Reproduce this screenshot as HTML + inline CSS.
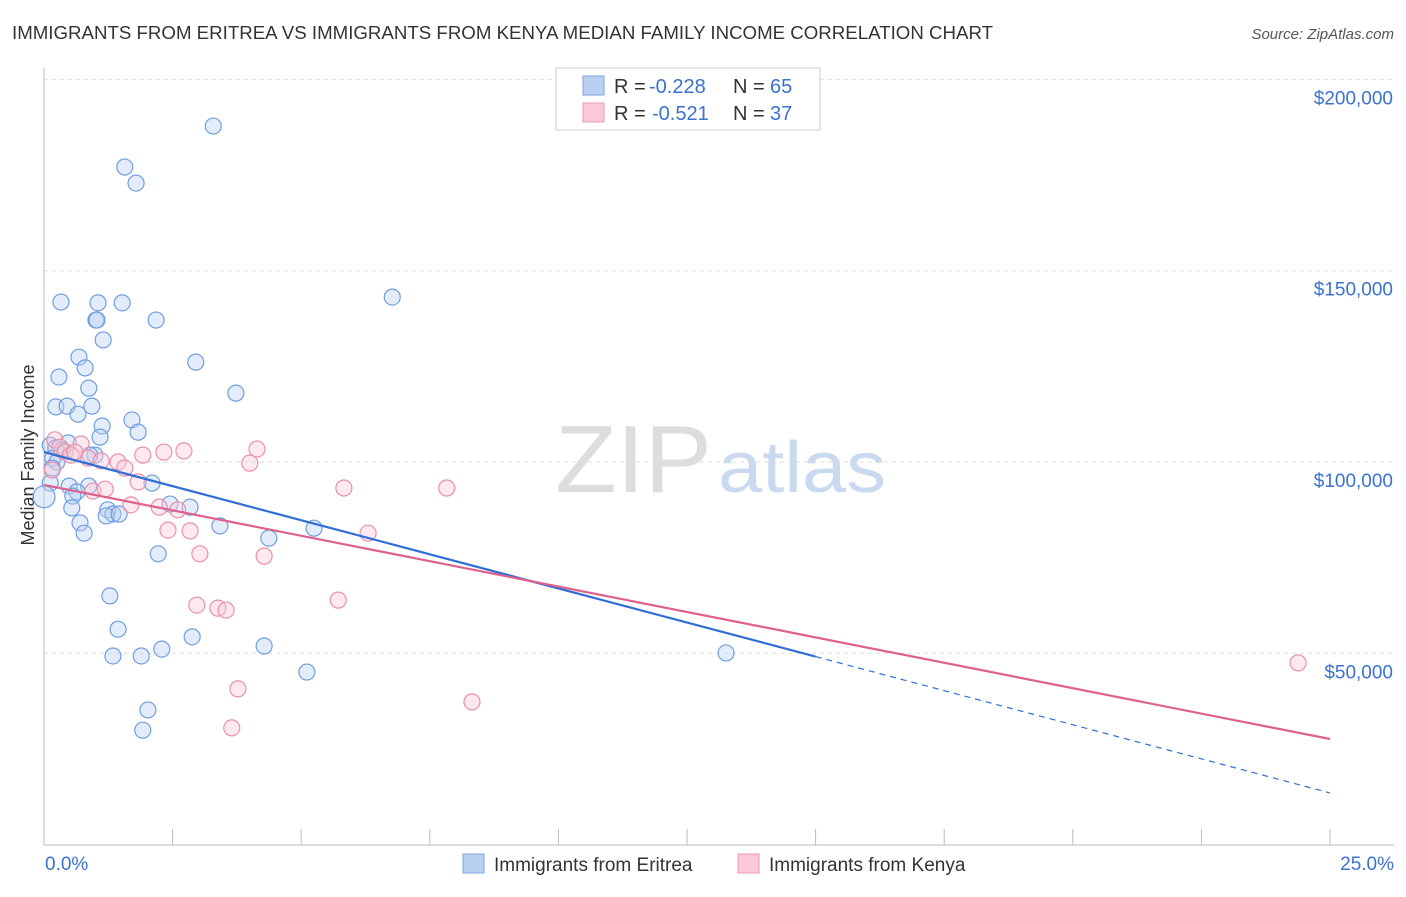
<!DOCTYPE html>
<html><head><meta charset="utf-8"><style>
body{margin:0;background:#fff;font-family:"Liberation Sans",sans-serif;}
svg text{font-family:"Liberation Sans",sans-serif;}
</style></head><body>
<svg id="chart" width="1406" height="892" xmlns="http://www.w3.org/2000/svg">
<text x="12" y="39" font-size="18" fill="#333" textLength="981" lengthAdjust="spacingAndGlyphs">IMMIGRANTS FROM ERITREA VS IMMIGRANTS FROM KENYA MEDIAN FAMILY INCOME CORRELATION CHART</text>
<text x="1394" y="39" font-size="15" fill="#555" font-style="italic" text-anchor="end">Source: ZipAtlas.com</text>
<text x="555" y="492" font-size="96" fill="#ddd" textLength="157" lengthAdjust="spacingAndGlyphs" font-family="Liberation Serif">ZIP</text>
<text x="718" y="492" font-size="72" fill="#c9daf0" textLength="168" lengthAdjust="spacingAndGlyphs">atlas</text>
<text transform="translate(34,455) rotate(-90)" font-size="18" fill="#333" text-anchor="middle">Median Family Income</text>
<g id="grid"></g><g id="marks"></g>
<g>
<rect x="556" y="68" width="264" height="62" fill="#fff" stroke="#ccc"/>
<rect x="583" y="76" width="21" height="19" fill="#b8d0f2" stroke="#7ea6e0"/>
<rect x="583" y="103" width="21" height="19" fill="#fac8d6" stroke="#ec9ab2"/>
<text x="614" y="93" font-size="20" fill="#333">R =</text>
<text x="649" y="93" font-size="20" fill="#3a72d0">-0.228</text>
<text x="733" y="93" font-size="20" fill="#333">N =</text>
<text x="770" y="93" font-size="20" fill="#3a72d0">65</text>
<text x="614" y="120" font-size="20" fill="#333">R =</text>
<text x="652" y="120" font-size="20" fill="#3a72d0">-0.521</text>
<text x="733" y="120" font-size="20" fill="#333">N =</text>
<text x="770" y="120" font-size="20" fill="#3a72d0">37</text>
</g>
<g>
<rect x="463" y="854" width="21" height="19" fill="#b8d0f2" stroke="#7ea6e0"/>
<text x="494" y="871" font-size="19" fill="#333">Immigrants from Eritrea</text>
<rect x="738" y="854" width="21" height="19" fill="#fac8d6" stroke="#ec9ab2"/>
<text x="769" y="871" font-size="19" fill="#333">Immigrants from Kenya</text>
</g>
</svg>
<script>
const yTicks=[50000,100000,150000,200000];
const yTickLabels=["$50,000","$100,000","$150,000","$200,000"];
const xTickLabels=["0.0%","25.0%"];
const blueX=[3.29,1.57,1.79,6.77,0.33,1.05,1.52,1.01,1.03,2.18,1.15,0.68,2.95,0.80,0.29,0.87,3.73,0.23,0.45,0.93,0.66,1.71,1.13,1.83,1.09,0.12,0.47,0.23,0.35,0.99,0.89,0.17,0.25,0.16,0.12,2.10,0.49,0.87,0.64,0.56,2.45,2.84,0.54,1.24,1.34,1.21,1.46,3.42,0.70,0.78,5.25,4.37,2.22,1.28,1.44,2.88,4.28,2.29,1.34,1.89,13.26,5.11,2.02,1.92,0];
const blueY=[187.8,177.1,172.9,143.1,141.8,141.6,141.6,137.1,137.1,137.1,131.9,127.4,126.1,124.6,122.2,119.3,118.0,114.4,114.6,114.6,112.5,111.0,109.4,107.8,106.5,104.4,105.0,103.7,103.1,101.8,101.8,101.0,100,98.4,94.5,94.5,93.7,93.7,92.2,91.1,89.0,88.2,88.0,87.5,86.4,85.9,86.4,83.3,84.1,81.4,82.7,80.1,76.0,65.0,56.3,54.3,51.9,51.1,49.3,49.3,50.1,45.1,35.2,29.9,90.9];
const pinkX=[0.21,0.31,0.41,0.72,0.52,0.86,1.11,1.44,1.57,1.92,2.33,2.72,4.14,4.00,0.95,1.19,1.83,1.69,2.24,2.60,2.41,2.84,5.83,7.83,6.30,3.03,4.28,2.97,3.38,3.54,5.72,3.77,8.32,3.65,24.38,0.16,0.60];
const pinkY=[105.8,103.9,102.6,104.7,101.8,101.0,100.3,100,98.4,101.8,102.6,102.9,103.4,99.7,92.4,92.9,94.8,88.8,88.2,87.5,82.2,82.0,93.2,93.2,81.4,76.0,75.4,62.6,61.8,61.3,63.9,40.7,37.3,30.5,47.5,97.9,102.6];
const blueTrend=[102.6,13.5];
const pinkTrend=[94.0,27.6];
const X=v=>44+v*51.44, Y=k=>462-(k-100)*191.3/50;
const NS="http://www.w3.org/2000/svg";
function mk(t,a,p){const e=document.createElementNS(NS,t);for(const k in a)e.setAttribute(k,a[k]);p.appendChild(e);return e;}
const g=document.getElementById('grid'),m=document.getElementById('marks');
yTicks.forEach((v,i)=>{const y=Y(v/1000);
const l=mk('line',{x1:44,x2:1394,y1:y,y2:y,stroke:'#ddd','stroke-dasharray':'4,4'},g);


const t=mk('text',{x:1393,y:y+25,'font-size':19,fill:'#3a72d0','text-anchor':'end'},g);t.textContent=yTickLabels[i];

});
const ax=mk('line',{x1:44,x2:1394,y1:845,y2:845,stroke:'#bbb'},g);


const ay=mk('line',{x1:44,x2:44,y1:68,y2:845,stroke:'#bbb'},g);


for(let i=0;i<=10;i++){const x=X(i*2.5);const tk=mk('line',{x1:x,x2:x,y1:829,y2:845,stroke:'#bbb'},g);

}
[[0,'start',45],[25,'end',1394]].forEach((d,i)=>{const t=mk('text',{x:d[2],y:870,'font-size':19,fill:'#3a72d0','text-anchor':d[1]},g);t.textContent=xTickLabels[i];

});
function dots(xs,ys,fill,stroke,name){xs.forEach((x,i)=>{const r=(x===0)?11:8;const c=mk('circle',{cx:X(x),cy:Y(ys[i]),r:r,fill:fill,'fill-opacity':0.4,stroke:stroke,'stroke-width':1.2},m);

});}
dots(blueX,blueY,'#b8d0f2','#6f9ee0','eritrea-point');
dots(pinkX,pinkY,'#fac8d6','#ea90ab','kenya-point');
const bAt=x=>blueTrend[0]+(blueTrend[1]-blueTrend[0])*x/25;
const l1=mk('line',{x1:X(0),y1:Y(bAt(0)),x2:X(15),y2:Y(bAt(15)),stroke:'#2f6fd6','stroke-width':2.2},m);


const l2=mk('line',{x1:X(15),y1:Y(bAt(15)),x2:X(25),y2:Y(bAt(25)),stroke:'#2f6fd6','stroke-width':1.2,'stroke-dasharray':'6,5'},m);


const l3=mk('line',{x1:X(0),y1:Y(pinkTrend[0]),x2:X(25),y2:Y(pinkTrend[1]),stroke:'#e0608d','stroke-width':2.2},m);


</script>
</body></html>
